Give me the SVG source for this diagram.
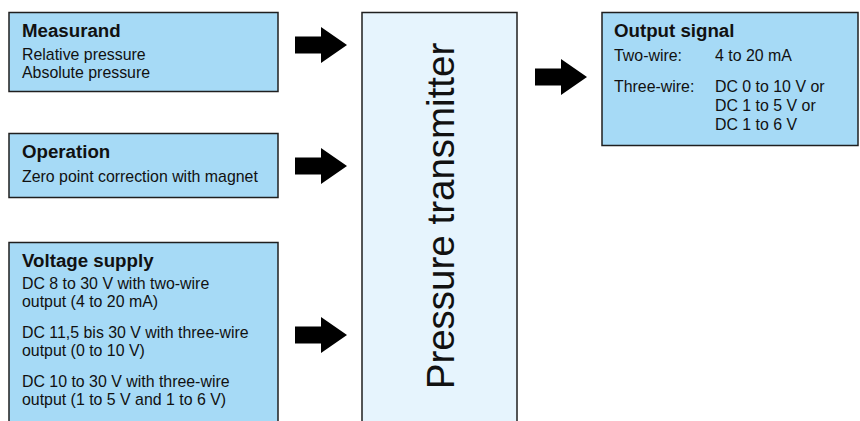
<svg xmlns="http://www.w3.org/2000/svg" xmlns:xlink="http://www.w3.org/1999/xlink" width="860" height="421" viewBox="0 0 860 421">
  <style>
    .box { fill: #a6daf6; stroke: #1f1f1f; stroke-width: 1.5; }
    .core { fill: #e6f4fd; stroke: #1f1f1f; stroke-width: 1.5; }
    .h { font-family: "Liberation Sans", Arial, sans-serif; font-weight: bold; font-size: 18.7px; fill: #111; }
    .t { font-family: "Liberation Sans", Arial, sans-serif; font-size: 15.9px; fill: #111; }
    .big { font-family: "Liberation Sans", Arial, sans-serif; font-size: 38.5px; fill: #111; }
    .arrow { fill: #000; }
  </style>
  <defs>
    <path id="blockArrow" d="M0,-8.5 H26 V-18 L52,0 L26,18 V8.5 H0 Z"/>
  </defs>

  <g id="measurand">
    <rect class="box" x="9" y="12.5" width="269" height="79"/>
    <text class="h" x="22" y="36.5">Measurand</text>
    <text class="t" x="22" y="60">Relative pressure</text>
    <text class="t" x="22" y="78">Absolute pressure</text>
  </g>

  <g id="operation">
    <rect class="box" x="9" y="133.5" width="269" height="64"/>
    <text class="h" x="22" y="157.5">Operation</text>
    <text class="t" x="22" y="181.5">Zero point correction with magnet</text>
  </g>

  <g id="voltage-supply">
    <rect class="box" x="9" y="242.5" width="269" height="190"/>
    <text class="h" x="22" y="266.5">Voltage supply</text>
    <text class="t" x="22" y="289">DC 8 to 30 V with two-wire</text>
    <text class="t" x="22" y="307">output (4 to 20 mA)</text>
    <text class="t" x="22" y="338">DC 11,5 bis 30 V with three-wire</text>
    <text class="t" x="22" y="356">output (0 to 10 V)</text>
    <text class="t" x="22" y="387">DC 10 to 30 V with three-wire</text>
    <text class="t" x="22" y="405">output (1 to 5 V and 1 to 6 V)</text>
  </g>

  <g id="pressure-transmitter">
    <rect class="core" x="362" y="12.5" width="155" height="420"/>
    <text class="big" transform="translate(454,216) rotate(-90)" text-anchor="middle">Pressure transmitter</text>
  </g>

  <g id="output-signal">
    <rect class="box" x="602" y="12.5" width="256" height="133"/>
    <text class="h" x="614" y="36.5">Output signal</text>
    <text class="t" x="614" y="60.5">Two-wire:</text>
    <text class="t" x="715" y="60.5">4 to 20 mA</text>
    <text class="t" x="614" y="91.5">Three-wire:</text>
    <text class="t" x="715" y="91.5">DC 0 to 10 V or</text>
    <text class="t" x="715" y="110.5">DC 1 to 5 V or</text>
    <text class="t" x="715" y="129.5">DC 1 to 6 V</text>
  </g>

  <g id="connectors">
    <use class="arrow" xlink:href="#blockArrow" href="#blockArrow" transform="translate(295,45)"/>
    <use class="arrow" xlink:href="#blockArrow" href="#blockArrow" transform="translate(295,166)"/>
    <use class="arrow" xlink:href="#blockArrow" href="#blockArrow" transform="translate(295,335)"/>
    <use class="arrow" xlink:href="#blockArrow" href="#blockArrow" transform="translate(535,77)"/>
  </g>
</svg>
